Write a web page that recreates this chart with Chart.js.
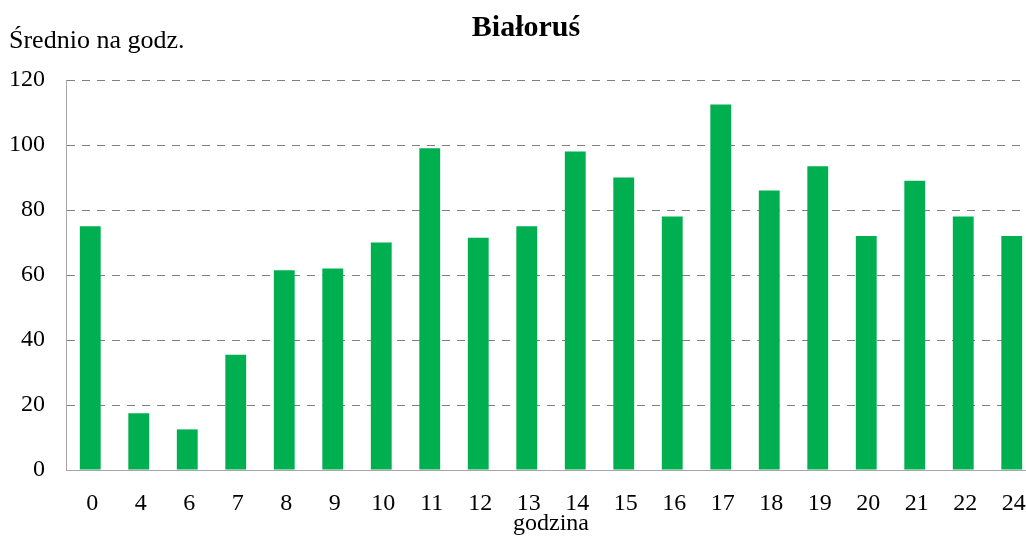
<!DOCTYPE html>
<html>
<head>
<meta charset="utf-8">
<script src="https://cdn.jsdelivr.net/npm/chart.js@4/dist/chart.umd.min.js"></script>
<style>
  html, body { margin: 0; padding: 0; background: #fff; overflow: hidden; }
  #wrap { width: 1026px; height: 538px; overflow: hidden; position: relative; }
  #inner { width: 1046px; height: 538px; position: absolute; left: 0; top: 0; }
</style>
</head>
<body>
<div id="wrap"><div id="inner"><canvas id="c" width="1046" height="538"></canvas></div></div>
<script>
const categories = ["0","4","6","7","8","9","10","11","12","13","14","15","16","17","18","19","20","21","22","24"];
const values = [75, 17.5, 12.5, 35.5, 61.5, 62, 70, 99, 71.5, 75, 98, 90, 78, 112.5, 86, 93.5, 72, 89, 78, 72];
const yTicks = [0, 20, 40, 60, 80, 100, 120];
const titleText = "Białoruś";
const yAxisLabel = "Średnio na godz.";
const xAxisLabel = "godzina";

const serif = "'Liberation Serif', 'Times New Roman', serif";

const textPlugin = {
  id: 'texts',
  afterDraw(chart) {
    const ctx = chart.ctx;
    ctx.save();
    ctx.fillStyle = '#000';
    ctx.textBaseline = 'middle';
    ctx.font = "bold 30px " + serif;
    ctx.textAlign = 'center';
    ctx.fillText(titleText, 526, 28);
    ctx.font = "26px " + serif;
    ctx.textAlign = 'left';
    ctx.fillText(yAxisLabel, 9, 41);
    ctx.restore();
  }
};

new Chart(document.getElementById('c'), {
  type: 'bar',
  data: {
    labels: categories,
    datasets: [{
      data: values,
      backgroundColor: '#00B050',
      borderWidth: 0,
      categoryPercentage: 1.0,
      barPercentage: 0.43
    }]
  },
  options: {
    responsive: false,
    animation: false,
    devicePixelRatio: 1,
    layout: { padding: { top: 80, right: 10, bottom: 0, left: 0 } },
    plugins: { legend: { display: false }, tooltip: { enabled: false }, title: { display: false } },
    scales: {
      x: {
        grid: { display: false, drawTicks: false },
        border: { display: true, color: '#a6a6a6', width: 1 },
        ticks: { color: '#000', font: { family: serif, size: 24 }, padding: 19, maxRotation: 0, autoSkip: false, labelOffset: 2 },
        title: { display: true, text: xAxisLabel, color: '#000', font: { family: serif, size: 24 }, padding: { top: 0, bottom: 0 } },
        afterFit(scale) { scale.height = 68; }
      },
      y: {
        min: 0, max: 120,
        afterBuildTicks(scale) { scale.ticks = yTicks.map(v => ({ value: v })); },
        grid: {
          drawTicks: false,
          color: (c) => (c.tick && c.tick.value === 0) ? 'rgba(0,0,0,0)' : '#808080',
          lineWidth: 1
        },
        border: { display: true, color: '#a6a6a6', width: 1, dash: [8, 7] },
        ticks: { color: '#000', font: { family: serif, size: 24 }, padding: 21 },
        afterFit(scale) { scale.width = 66; }
      }
    }
  },
  plugins: [textPlugin]
});
</script>
</body>
</html>
